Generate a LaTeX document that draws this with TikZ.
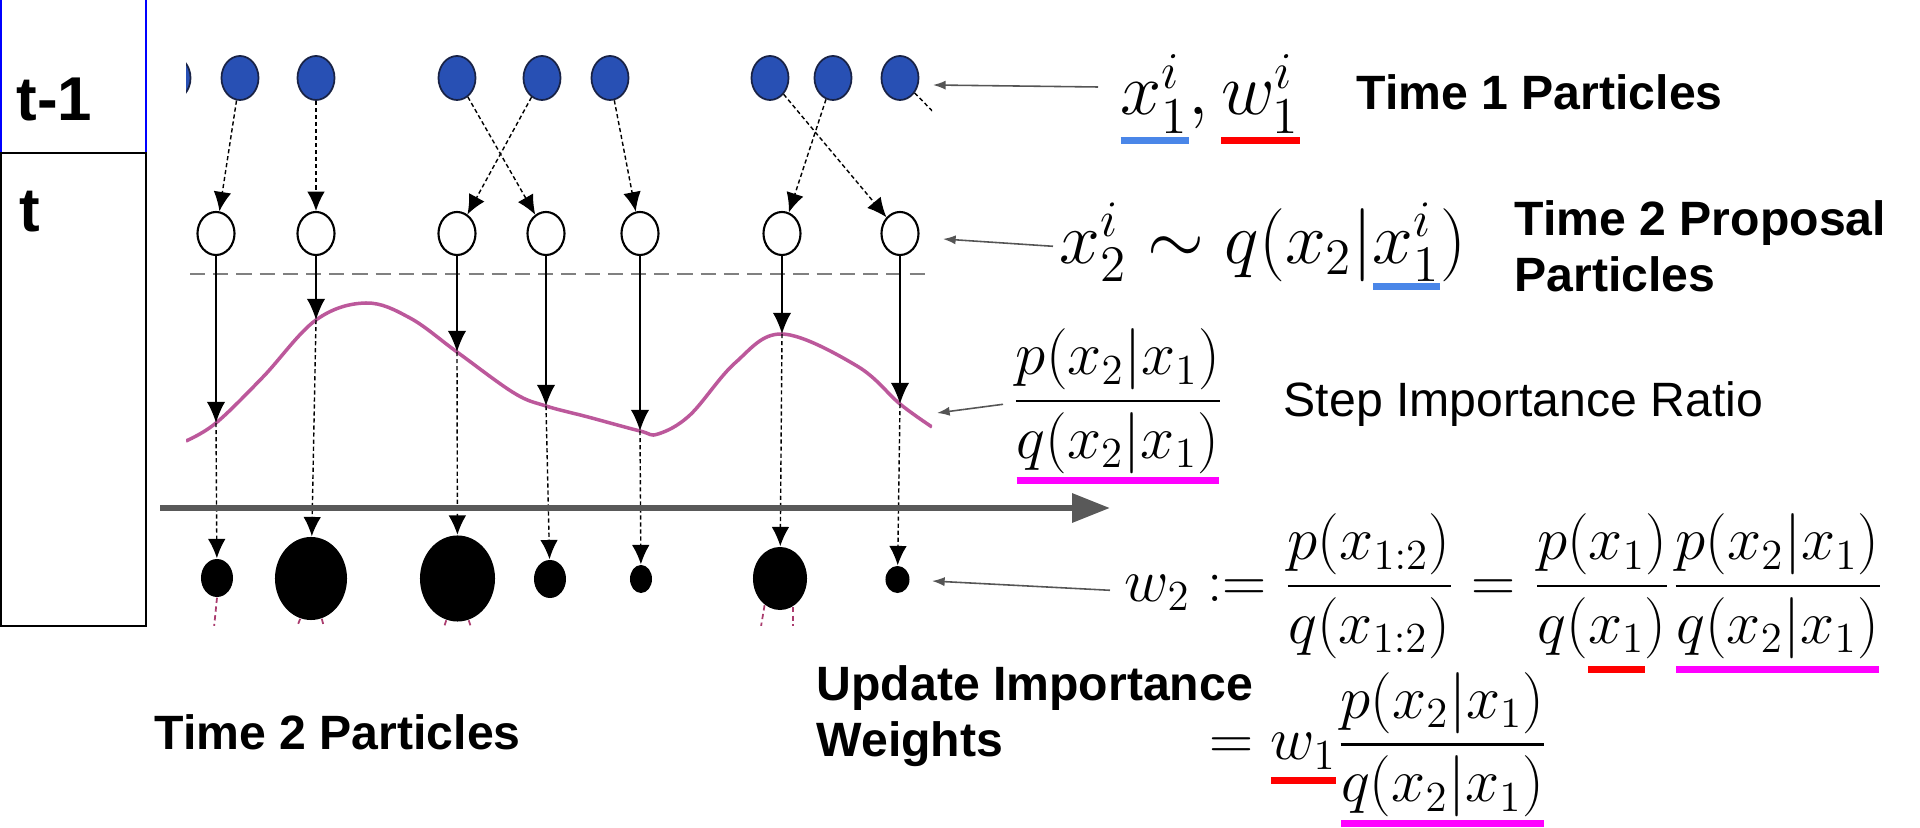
\RequirePackage{fix-cm}
\documentclass[tikz,border=0pt]{standalone}
\usepackage{fontspec}
\usepackage{amsmath}
\usetikzlibrary{arrows.meta, shapes.geometric}

\newfontfamily\arialfont{Liberation Sans}

\definecolor{ptblue}{RGB}{40,80,180}
\definecolor{ptnavy}{RGB}{25,35,70}
\definecolor{curvepink}{RGB}{188,88,155}
\definecolor{ulblue}{RGB}{74,134,232}
\definecolor{ulred}{RGB}{255,0,0}
\definecolor{ulmag}{RGB}{255,0,255}
\definecolor{axisgray}{RGB}{89,89,89}
\definecolor{ptrgray}{RGB}{85,85,85}
\definecolor{nextpink}{RGB}{170,60,110}

% coloured bar under a piece of math: [gap]{colour}{math}
\newcommand{\cbar}[3][1pt]{{\setbox0=\hbox{$\textstyle#3$}\vtop{\offinterlineskip\copy0\kern#1\hbox{\color{#2}\rule{\wd0}{2pt}}}}}

\tikzset{
  blueptc/.style={ellipse, draw=ptnavy, line width=0.5pt, fill=ptblue, minimum width=0.37cm, minimum height=0.44cm, inner sep=0pt},
  holptc/.style={ellipse, draw=black, line width=0.6pt, fill=white, minimum width=0.37cm, minimum height=0.43cm, inner sep=0pt},
  wptc/.style={ellipse, fill=black, inner sep=0pt},
  dotarrow/.style={-{Latex[length=5.5pt,width=5pt]}, line width=0.4pt, dash pattern=on 1.2pt off 0.8pt},
  solarrow/.style={-{Latex[length=6pt,width=5.2pt]}, line width=0.4pt},
  nextstep/.style={draw=nextpink, line width=0.5pt, dash pattern=on 1.5pt off 1pt},
  pointer/.style={-{Latex[length=3.6pt,width=2.6pt]}, draw=ptrgray, line width=0.45pt},
  lbl/.style={font=\arialfont\bfseries\fontsize{13.7}{16.2}\selectfont, inner sep=0pt, anchor=base west},
  plainlbl/.style={font=\arialfont\fontsize{13.7}{16.2}\selectfont, inner sep=0pt, anchor=base west},
  tlbl/.style={font=\arialfont\bfseries\fontsize{17.6}{20}\selectfont, inner sep=0pt, anchor=base west},
  mth/.style={inner sep=0pt, anchor=base west}
}

\begin{document}
\begin{tikzpicture}[x=0.01cm, y=-0.01cm]
    \useasboundingbox (0,0) rectangle (1920,828);

    % Time boxes
    \draw[blue, line width=0.6pt] (0.5,-5) rectangle (146,153);
    \draw[line width=0.7pt] (0.5,153) rectangle (146,626);
    \node[tlbl] (tm1) at (16,121) {t-1};
    \node[tlbl] (tt) at (19,232) {t};

    \begin{scope}
        \clip (186,30) rectangle (932,626);

        % Draw nodes
        \node[blueptc] (b0) at (172,78) {};
        \node[blueptc] (b1) at (240,78) {};
        \node[blueptc] (b2) at (316,78) {};
        \node[blueptc] (b3) at (457,78) {};
        \node[blueptc] (b4) at (542,78) {};
        \node[blueptc] (b5) at (610,78) {};
        \node[blueptc] (b6) at (770,78) {};
        \node[blueptc] (b7) at (833,78) {};
        \node[blueptc] (b8) at (900,78) {};
        \coordinate (b9) at (1000,180);

        \node[holptc] (h1) at (216,233.5) {};
        \node[holptc] (h2) at (316,233.5) {};
        \node[holptc] (h3) at (457,233.5) {};
        \node[holptc] (h4) at (546,233.5) {};
        \node[holptc] (h5) at (640,233.5) {};
        \node[holptc] (h6) at (782,233.5) {};
        \node[holptc] (h7) at (900,233.5) {};

        \node[wptc, minimum width=0.32cm, minimum height=0.38cm] (w1) at (217,578) {};
        \node[wptc, minimum width=0.72cm, minimum height=0.83cm] (w2) at (311,578.5) {};
        \node[wptc, minimum width=0.75cm, minimum height=0.86cm] (w3) at (457.5,578.5) {};
        \node[wptc, minimum width=0.32cm, minimum height=0.38cm] (w4) at (550,579) {};
        \node[wptc, minimum width=0.22cm, minimum height=0.28cm] (w5) at (641,579) {};
        \node[wptc, minimum width=0.54cm, minimum height=0.63cm] (w6) at (780,578.5) {};
        \node[wptc, minimum width=0.24cm, minimum height=0.27cm] (w7) at (897.5,579.5) {};

        % Target density
        \coordinate (c1) at (216,423);
        \coordinate (c2) at (316,320);
        \coordinate (c3) at (457,352);
        \coordinate (c4) at (546,406);
        \coordinate (c5) at (640,431);
        \coordinate (c6) at (782,334);
        \coordinate (c7) at (900,404);
        \draw[gray, line width=0.8pt, dash pattern=on 4.3pt off 2.3pt] (190,274) -- (932,274);
        \draw[curvepink, line width=1pt] plot[smooth, tension=0.6] coordinates {(186,441) (c1) (263,377) (c2) (366,303) (410,318) (c3) (514,393) (c4) (588,417) (c5) (658,434) (690,415) (735,363) (c6) (857,366) (c7) (932,427)};

        % Draw connections
        \draw[dotarrow] (b1) -- (h1);
        \draw[dotarrow] (b2) -- (h2);
        \draw[dotarrow] (b3) -- (h4);
        \draw[dotarrow] (b4) -- (h3);
        \draw[dotarrow] (b5) -- (h5);
        \draw[dotarrow] (b6) -- (h7);
        \draw[dotarrow] (b7) -- (h6);
        \draw[dotarrow] (b8) -- (b9);

        \draw[solarrow] (h1) -- (c1);
        \draw[solarrow] (h2) -- (c2);
        \draw[solarrow] (h3) -- (c3);
        \draw[solarrow] (h4) -- (c4);
        \draw[solarrow] (h5) -- (c5);
        \draw[solarrow] (h6) -- (c6);
        \draw[solarrow] (h7) -- (c7);

        \draw[dotarrow] (c1) -- (w1);
        \draw[dotarrow] (c2) -- (w2);
        \draw[dotarrow] (c3) -- (w3);
        \draw[dotarrow] (c4) -- (w4);
        \draw[dotarrow] (c5) -- (w5);
        \draw[dotarrow] (c6) -- (w6);
        \draw[dotarrow] (c7) -- (w7);

        % next step (cut off)
        \draw[nextstep] (w1.south) -- +(-3,30);
        \draw[nextstep] (w2.255) -- +(-6,15);
        \draw[nextstep] (w2.285) -- +(4,15);
        \draw[nextstep] (w3.255) -- +(-5,15);
        \draw[nextstep] (w3.285) -- +(5,15);
        \draw[nextstep] (w6.240) -- +(-5,30);
        \draw[nextstep] (w6.295) -- +(0,30);
    \end{scope}

    % Time axis
    \coordinate (ax0) at (160,508);
    \coordinate (ax1) at (1110,508);
    \draw[axisgray, line width=1.7pt, -{Triangle[length=10.8pt,width=8pt]}] (ax0) -- (ax1);

    % Formulas
    \node[mth, font=\fontsize{21}{25}\selectfont] (r1) at (1120,115)
        {$\cbar{ulblue}{x_1^i}, \cbar{ulred}{w_1^i}$};
    \node[mth, font=\fontsize{20.8}{25}\selectfont] (r2) at (1059,263.3)
        {$x_2^i \sim q(x_2|\cbar[0.5pt]{ulblue}{x_1^i})$};
    \node[mth, font=\fontsize{17.4}{21}\selectfont] (r3) at (1011,416.3)
        {$\displaystyle\frac{p(x_2|x_1)}{\cbar{ulmag}{q(x_2|x_1)}}$};
    \node[mth, font=\fontsize{17.4}{21}\selectfont] (r4) at (1124,601.3)
        {$\displaystyle w_2 := \frac{p(x_{1:2})}{q(x_{1:2})} = \frac{p(x_1)}{q(\cbar[2pt]{ulred}{\vphantom{(}x_1})}\frac{p(x_2|x_1)}{\cbar[2pt]{ulmag}{q(x_2|x_1)}}$};
    \node[mth, font=\fontsize{17.4}{21}\selectfont] (r5) at (1209,760)
        {$\displaystyle = \cbar[2.3pt]{ulred}{w_1}\frac{p(x_2|x_1)}{\cbar[0.8pt]{ulmag}{q(x_2|x_1)}}$};

    % Labels
    \node[lbl] (tp1) at (1356,110) {Time 1 Particles};
    \node[lbl, align=left] (tp2) at (1514,292) {Time 2 Proposal\\Particles};
    \node[plainlbl] (sir) at (1283,417) {Step Importance Ratio};
    \node[lbl, align=left] (uiw) at (816,757) {Update Importance\\Weights};
    \node[lbl] (t2p) at (154,750) {Time 2 Particles};

    % Pointers
    \coordinate (p1) at (933,85);
    \coordinate (p2) at (943,239);
    \coordinate (p3) at (937,413);
    \coordinate (p4) at (932,581);
    \draw[pointer] ([shift={(-22,-28)}]r1.base west) -- (p1);
    \draw[pointer] ([shift={(-6,-17)}]r2.base west) -- (p2);
    \draw[pointer] ([shift={(-8,-12)}]r3.base west) -- (p3);
    \draw[pointer] ([shift={(-14,-11)}]r4.base west) -- (p4);
\end{tikzpicture}
\end{document}
